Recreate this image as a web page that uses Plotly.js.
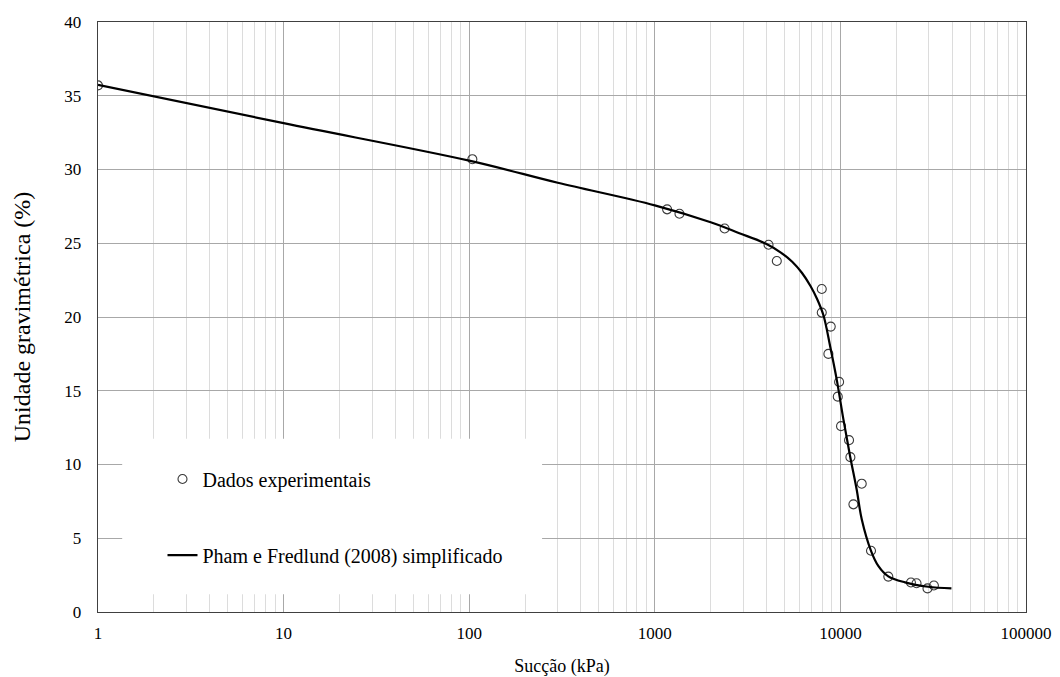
<!DOCTYPE html>
<html>
<head>
<meta charset="utf-8">
<script src="https://cdn.plot.ly/plotly-3.0.1.min.js"></script>
<style>
  html, body { margin: 0; padding: 0; background: #fff; }
  #chart { width: 1060px; height: 677px; }
</style>
</head>
<body>
<div id="chart"></div>
<script>
// Measured suction (kPa) and gravimetric water content (%)
const suctionData = [1, 104, 1165, 1358, 2378, 4100, 4543, 7936, 7936, 8871, 8616, 9840, 9680, 10080, 11130, 11320, 13030, 11750, 14620, 18120, 23990, 25720, 29460, 31900];
const moistureData = [35.7, 30.7, 27.3, 27.0, 26.0, 24.9, 23.8, 21.9, 20.3, 19.35, 17.5, 15.6, 14.6, 12.6, 11.65, 10.5, 8.7, 7.3, 4.15, 2.4, 2.0, 1.95, 1.6, 1.8];

// Fitted curve, Pham e Fredlund (2008) simplificado
const suctionFit = [1, 10, 100, 300, 1000, 2000, 2830, 4000, 4800, 5500, 6200, 6900, 7500, 8110, 8810, 9550, 10380, 11270, 12230, 13030, 14620, 16000, 18120, 22280, 29720, 39650];
const moistureFit = [35.74, 33.14, 30.6, 29.1, 27.57, 26.42, 25.7, 24.95, 24.35, 23.75, 23.0, 22.1, 21.2, 20.1, 18.0, 15.77, 13.06, 10.58, 8.32, 6.29, 4.15, 3.13, 2.42, 2.01, 1.71, 1.6];

// Axis tick labels
const xTickVals = [1, 10, 100, 1000, 10000, 100000];
const xTickText = ['1', '10', '100', '1000', '10000', '100000'];
const yTickVals = [0, 5, 10, 15, 20, 25, 30, 35, 40];

// Minor grid positions: 2..9 within each decade
const minorVals = [];
for (let d = 1; d <= 10000; d *= 10) {
  for (let m = 2; m <= 9; m++) minorVals.push(m * d);
}

const serif = '"Liberation Serif", "Times New Roman", Times, serif';

const traces = [
  {
    x: suctionData,
    y: moistureData,
    type: 'scatter',
    mode: 'markers',
    name: 'Dados experimentais',
    marker: { symbol: 'circle-open', size: 9, color: '#3a3a3a', line: { width: 1.1, color: '#3a3a3a' } },
    legend: 'legend'
  },
  {
    x: suctionFit,
    y: moistureFit,
    type: 'scatter',
    mode: 'lines',
    name: 'Pham e Fredlund (2008) simplificado',
    line: { color: '#000', width: 2.2, shape: 'spline', smoothing: 1 },
    legend: 'legend2'
  }
];

const legendFont = { family: serif, size: 20, color: '#000' };

const layout = {
  width: 1060,
  height: 677,
  margin: { l: 98, r: 34, t: 22, b: 65 },
  paper_bgcolor: '#fff',
  plot_bgcolor: '#fff',
  font: { family: serif, color: '#000', size: 16 },
  showlegend: true,
  xaxis: {
    type: 'log',
    range: [0, 5],
    tickvals: xTickVals,
    ticktext: xTickText,
    ticks: '',
    ticklabelstandoff: 5,
    tickfont: { family: serif, size: 17, color: '#000' },
    showgrid: true,
    gridcolor: '#a8a8a8',
    gridwidth: 1,
    minor: { tickvals: minorVals, showgrid: true, gridcolor: '#dcdcdc', gridwidth: 1, ticks: '' },
    showline: true,
    linecolor: '#404040',
    linewidth: 1.3,
    mirror: true,
    zeroline: false,
    title: { text: 'Sucção (kPa)', font: { family: serif, size: 18, color: '#000' }, standoff: 18 }
  },
  yaxis: {
    range: [0, 40],
    tickvals: yTickVals,
    ticks: '',
    ticklabelstandoff: 12,
    tickfont: { family: serif, size: 17, color: '#000' },
    showgrid: true,
    gridcolor: '#a8a8a8',
    gridwidth: 1,
    showline: true,
    linecolor: '#404040',
    linewidth: 1.3,
    mirror: true,
    zeroline: false,
    title: { text: 'Unidade gravimétrica (%)', font: { family: serif, size: 24, color: '#000' }, standoff: 27 }
  },
  shapes: [
    {
      // blank panel behind the legend entries (data coords on the log axis)
      type: 'rect',
      xref: 'x', yref: 'y',
      x0: 1.35, x1: 247, y0: 1.2, y1: 11.75,
      fillcolor: '#fff',
      line: { width: 0 },
      layer: 'between'
    }
  ],
  legend: {
    x: 0.0695, y: 0.2254, xanchor: 'left', yanchor: 'middle',
    bgcolor: 'rgba(0,0,0,0)', borderwidth: 0,
    font: legendFont
  },
  legend2: {
    x: 0.0695, y: 0.0965, xanchor: 'left', yanchor: 'middle',
    bgcolor: 'rgba(0,0,0,0)', borderwidth: 0,
    font: legendFont
  },
  hovermode: false
};

Plotly.newPlot('chart', traces, layout, { displayModeBar: false, staticPlot: true });
</script>
</body>
</html>
